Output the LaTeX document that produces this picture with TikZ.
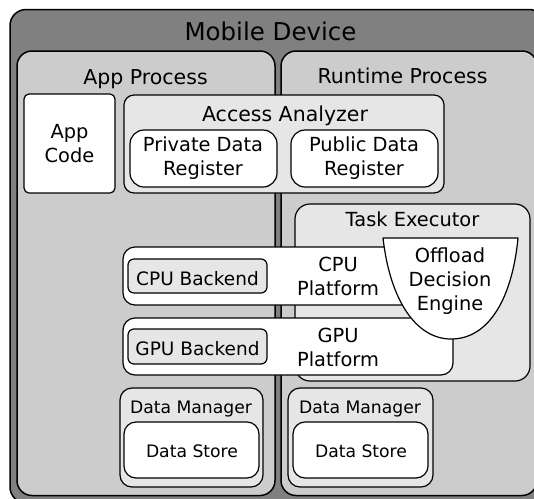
\documentclass[tikz,border=0pt]{standalone}
\usepackage{fontspec}
\setmainfont{DejaVu Sans}
\definecolor{cdev}{HTML}{808080}
\definecolor{cproc}{HTML}{CCCCCC}
\definecolor{cmod}{HTML}{E6E6E6}
\tikzset{
  blk/.style={draw=black, line width=1.2pt, rounded corners=#1, inner sep=0pt, outer sep=0pt},
  blk/.default=10pt,
  big/.style={blk=16pt, line width=1.5pt},
  txt/.style={inner sep=0pt, outer sep=0pt, text=black, align=center},
  fT/.style={font=\fontsize{24.5}{28}\selectfont},
  fP/.style={font=\fontsize{20.5}{24}\selectfont},
  fA/.style={font=\fontsize{20.5}{24}\selectfont},
  fN/.style={font=\fontsize{19.4}{24}\selectfont},
  fB/.style={font=\fontsize{18.5}{22}\selectfont},
  fD/.style={font=\fontsize{17.2}{21}\selectfont},
}
\begin{document}
\begin{tikzpicture}[x=1pt,y=-1pt]
\useasboundingbox (0,0) rectangle (534,498);
\clip (0,0) rectangle (534,498);
% containers
\node[big, fill=cdev, minimum width=535pt, minimum height=493.5pt] (mobile) at (277.5,256.25) {};
\node[big, blk=15pt, line width=1.5pt, fill=cproc, minimum width=258pt, minimum height=444.5pt] (app) at (146,273.25) {};
\node[big, blk=15pt, line width=1.5pt, fill=cproc, minimum width=256pt, minimum height=444.5pt] (runtime) at (409,273.25) {};
\node[txt, fT, anchor=base] (tmobile) at (270.5,40) {Mobile Device};
\node[txt, fP, anchor=base] (tapp) at (145.5,84) {App Process};
\node[txt, fP, anchor=base] (truntime) at (402.5,83) {Runtime Process};
% access analyzer
\node[blk=10pt, fill=cmod, minimum width=320pt, minimum height=98pt] (analyzer) at (284,144) {};
\node[txt, fA, anchor=base] (tanalyzer) at (285,121) {Access Analyzer};
\node[blk=14pt, fill=white, minimum width=147pt, minimum height=57pt] (private) at (203.5,158.5) {};
\node[txt, fN] (tprivate) at (203,158) {Private Data\\Register};
\node[blk=14pt, fill=white, minimum width=147pt, minimum height=57pt] (public) at (364.5,158.5) {};
\node[txt, fN] (tpublic) at (364,158) {Public Data\\Register};
% app code
\node[blk=5pt, fill=white, minimum width=91pt, minimum height=99pt] (appcode) at (69.5,143.5) {};
\node[txt, fN] (tappcode) at (69.5,143.5) {App\\Code};
% task executor
\node[blk=15pt, fill=cmod, minimum width=235pt, minimum height=177pt] (taskexec) at (412.5,292.5) {};
\node[txt, fN, anchor=base] (ttaskexec) at (412.5,226.7) {Task Executor};
% platforms
\node[blk=12pt, fill=white, minimum width=330pt, minimum height=58pt] (cpuplat) at (288,276) {};
\node[txt, fN] (tcpuplat) at (338,276) {CPU\\Platform};
\node[blk=6pt, fill=cmod, minimum width=139pt, minimum height=34pt] (cpuback) at (197.5,276) {};
\node[txt, fB, anchor=base] (tcpuback) at (197.5,285) {CPU Backend};
\node[blk=12pt, fill=white, minimum width=330pt, minimum height=57pt] (gpuplat) at (288,346.5) {};
\node[txt, fN] (tgpuplat) at (338,347) {GPU\\Platform};
\node[blk=6pt, fill=cmod, minimum width=139pt, minimum height=35pt] (gpuback) at (197.5,346.5) {};
\node[txt, fB, anchor=base] (tgpuback) at (197.5,355) {GPU Backend};
% offload decision engine
\draw[line width=1.2pt, fill=white, line join=round] (383,238) -- (518,238)
  .. controls (512,300) and (488,339) .. (451,339)
  .. controls (416,339) and (390,300) .. (383,238) -- cycle;
\node[txt, fN] (toffload) at (450,281.5) {Offload\\Decision\\Engine};
% data managers
\node[blk=12pt, fill=cmod, minimum width=143pt, minimum height=99pt] (dmL) at (191.5,437.5) {};
\node[txt, fD, anchor=base] (tdmL) at (191,413) {Data Manager};
\node[blk=12pt, fill=white, minimum width=135pt, minimum height=56pt] (dsL) at (191.5,450) {};
\node[txt, fD, anchor=base] (tdsL) at (192,457) {Data Store};
\node[blk=12pt, fill=cmod, minimum width=145pt, minimum height=99pt] (dmR) at (360.5,437.5) {};
\node[txt, fD, anchor=base] (tdmR) at (360,413) {Data Manager};
\node[blk=12pt, fill=white, minimum width=135pt, minimum height=56pt] (dsR) at (360.5,450) {};
\node[txt, fD, anchor=base] (tdsR) at (361,457) {Data Store};
\end{tikzpicture}
\end{document}
